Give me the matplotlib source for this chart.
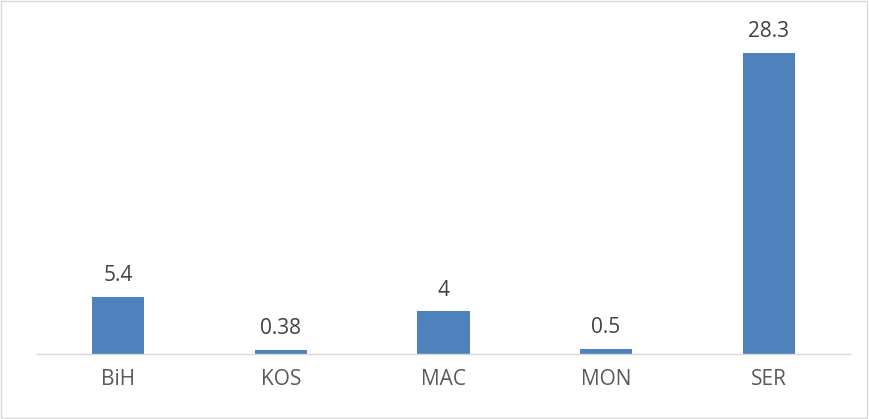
import matplotlib.pyplot as plt
from matplotlib.patches import Rectangle

# data
countries = ["BiH", "KOS", "MAC", "MON", "SER"]
values = [5.4, 0.38, 4, 0.5, 28.3]
value_labels = ["5.4", "0.38", "4", "0.5", "28.3"]

plt.rcParams['font.family'] = ['Open Sans', 'DejaVu Sans']

fig = plt.figure(figsize=(8.69, 4.19), dpi=100)
ax = fig.add_axes([37 / 869, 65 / 419, 813 / 869, 319 / 419])

x = range(len(countries))
bars = ax.bar(x, values, width=0.32, color='#4F81BD')

for b, lab in zip(bars, value_labels):
    ax.text(b.get_x() + b.get_width() / 2, b.get_height() + 1.0, lab,
            ha='center', va='bottom', fontsize=15, color='#404040')

ax.set_xlim(-0.5, len(countries) - 0.5)
ax.set_ylim(0, 30)
ax.set_xticks(list(x))
ax.set_xticklabels(countries, fontsize=15, color='#595959')
ax.tick_params(axis='x', length=0, pad=11)
ax.set_yticks([])
for side in ['top', 'right', 'left']:
    ax.spines[side].set_visible(False)
ax.spines['bottom'].set_color('#D9D9D9')
ax.spines['bottom'].set_linewidth(1)

# chart border
fig.patches.append(Rectangle((0.001, 0.002), 0.997, 0.995, transform=fig.transFigure,
                             fill=False, edgecolor='#D9D9D9', linewidth=1))

fig.savefig('out.png', dpi=100)
